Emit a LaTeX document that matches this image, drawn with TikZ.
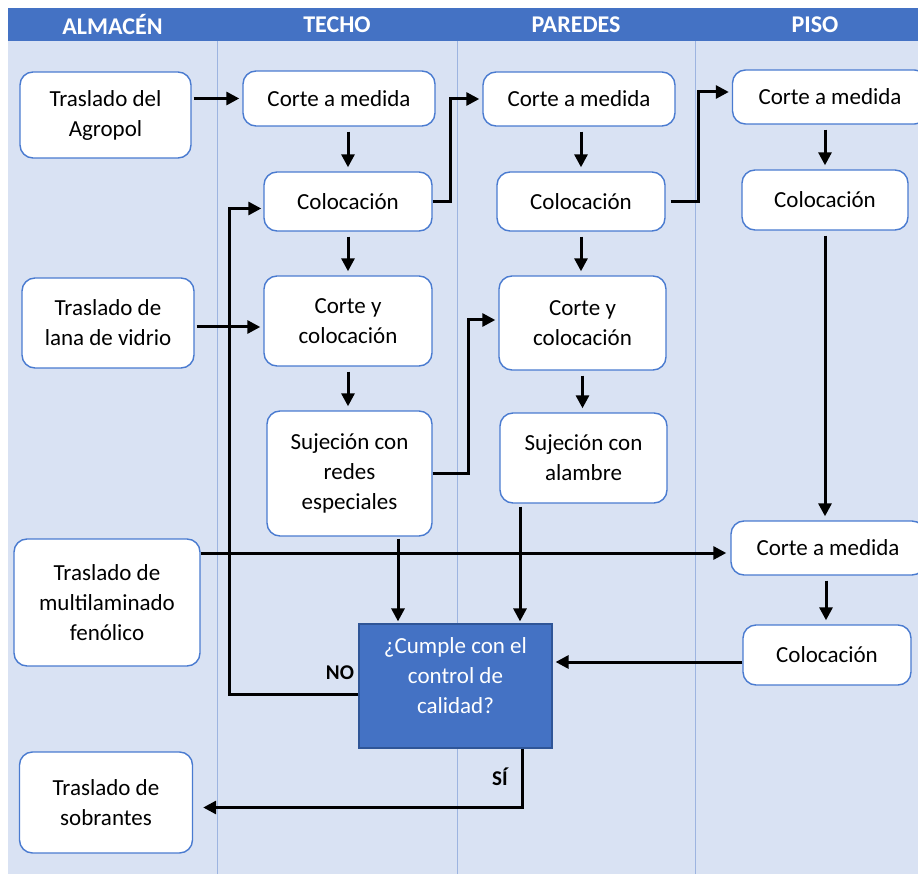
\documentclass[tikz,border=0pt]{standalone}
\usepackage{fontspec}
\setmainfont{Carlito}
\usetikzlibrary{arrows.meta,calc}
\definecolor{hdr}{HTML}{4472C4}
\definecolor{lanebg}{HTML}{D9E2F3}
\definecolor{laneline}{HTML}{9DB4E0}
\definecolor{boxline}{HTML}{4A7BD0}
\definecolor{decline}{HTML}{2F5597}
\begin{document}
\begin{tikzpicture}[x=1pt,y=-1pt,
  box/.style={draw=boxline, line width=1.4pt, fill=white, rounded corners=13pt,
    align=center, font=\fontsize{23}{30}\selectfont, inner sep=0pt},
  sz/.style 2 args={minimum width=#1pt, minimum height=#2pt},
  dec/.style={draw=decline, line width=1.2pt, fill=hdr, text=white,
    align=center, font=\fontsize{23}{30}\selectfont, inner sep=0pt},
  hdrtxt/.style={text=white, font=\fontsize{24}{28}\selectfont\bfseries},
  lbl/.style={font=\fontsize{21}{24}\selectfont\bfseries},
  arr/.style={line width=3pt, -{Triangle[length=13pt,width=13pt]}},
  vgap/.style={shorten <=5pt, shorten >=4pt},
  hgap/.style={shorten <=2pt, shorten >=3pt}]
\useasboundingbox (0,0) rectangle (918,874);
\fill[white] (0,0) rectangle (918,874);
\fill[hdr] (8,8) rectangle (918,41);
\fill[lanebg] (8,41) rectangle (918,874);
\foreach \lx in {217,457,695}
  \draw[laneline, line width=0.9pt] (\lx,41) -- (\lx,874);
\node[hdrtxt] (hA) at (112.5,25) {ALMACÉN};
\node[hdrtxt] (hT) at (337,25) {TECHO};
\node[hdrtxt] (hP) at (576,25) {PAREDES};
\node[hdrtxt] (hS) at (815,25) {PISO};

% Almacen
\node[box, sz={171}{86}] (agro) at (105.5,115) {Traslado del\\Agropol};
\node[box, sz={172}{90}] (lana) at (108,323) {Traslado de\\lana de vidrio};
\node[box, sz={186}{127}] (multi) at (107,602.5) {Traslado de\\multilaminado\\fenólico};
\node[box, sz={173}{101}] (sobr) at (106,802.5) {Traslado de\\sobrantes};
% Techo
\node[box, sz={192}{55}] (tcorte) at (339,98.5) {Corte a medida};
\node[box, sz={168}{59}] (tcol) at (348,201.5) {Colocación};
\node[box, sz={168}{90}] (tcyc) at (348,321) {Corte y\\colocación};
\node[box, sz={165}{125}] (tsuj) at (349.5,473.5) {Sujeción con\\redes\\especiales};
% Paredes
\node[box, sz={192}{54}] (pcorte) at (579,99) {Corte a medida};
\node[box, sz={168}{59}] (pcol) at (581,201.5) {Colocación};
\node[box, sz={167}{94}] (pcyc) at (582.5,323) {Corte y\\colocación};
\node[box, sz={167}{90}] (psuj) at (583.5,458) {Sujeción con\\alambre};
% Piso
\node[box, sz={195}{54}] (scorte) at (830,97) {Corte a medida};
\node[box, sz={166}{60}] (scol) at (825,200) {Colocación};
\node[box, sz={194}{54}] (scorte2) at (828,548) {Corte a medida};
\node[box, sz={168}{60}] (scol2) at (827,655) {Colocación};
% Decision
\node[dec, minimum width=193pt, minimum height=124pt] (dq) at (455.5,686)
  {¿Cumple con el\\control de\\calidad?\rule[-21pt]{0pt}{21pt}};

% connectors
\draw[arr,hgap] (agro.east |- tcorte.west) -- (tcorte.west);
\draw[arr,vgap] (tcol.north |- tcorte.south) -- (tcol.north);
\draw[arr,shorten >=3pt] (tcol.east) -- ++(18,0) |- (pcorte.west);
\draw[arr,vgap] (tcol.south) -- (tcyc.north);
\draw[arr,hgap] ([yshift=-4pt]lana.east) -- ([yshift=-4pt]lana.east -| tcyc.west);
\draw[arr,vgap] (tcyc.south) -- (tcyc.south |- tsuj.north);
\draw[arr,shorten >=3pt] (tsuj.east) -- ++(36,0) |- ([yshift=3pt]pcyc.west);
\draw[arr,vgap] (pcorte.south -| pcol.north) -- (pcol.north);
\draw[arr,shorten <=5pt,shorten >=3pt] (pcol.east) -- ++(33,0) |- ([yshift=5pt]scorte.west);
\draw[arr,vgap] (pcol.south) -- (pcol.south |- pcyc.north);
\draw[arr,vgap] (pcyc.south) -- (pcyc.south |- psuj.north);
\draw[arr,vgap] (scol.north |- scorte.south) -- (scol.north);
\draw[arr,vgap] (scol.south) -- (scol.south |- scorte2.north);
\draw[arr,shorten >=4pt] ([yshift=-5pt]multi.east |- scorte2.west) -- ([yshift=-5pt]scorte2.west);
\draw[arr,vgap] ([xshift=-2pt]scorte2.south) -- ([xshift=-2pt]scorte2.south |- scol2.north);
\draw[arr,shorten >=3pt] ([yshift=-7pt]scol2.west) -- ([yshift=-7pt]scol2.west -| dq.east);
\draw[arr,shorten <=2pt,shorten >=2pt] ([xshift=48.5pt]tsuj.south) -- ([xshift=48.5pt]tsuj.south |- dq.north);
\draw[arr,shorten <=3pt,shorten >=2pt] ([xshift=-63.5pt]psuj.south) -- ([xshift=-63.5pt]psuj.south |- dq.north);
\draw[arr,shorten >=2pt] ([yshift=-8pt]dq.west) -- ++(-129,0) |- ([yshift=-7pt]tcol.west);
\draw[arr,shorten >=10pt] ([xshift=67pt]dq.south) |- ([yshift=-5pt]sobr.east);
\node[lbl] (lno) at (340,673) {NO};
\node[lbl] (lsi) at (500,777) {SÍ};
\end{tikzpicture}
\end{document}
